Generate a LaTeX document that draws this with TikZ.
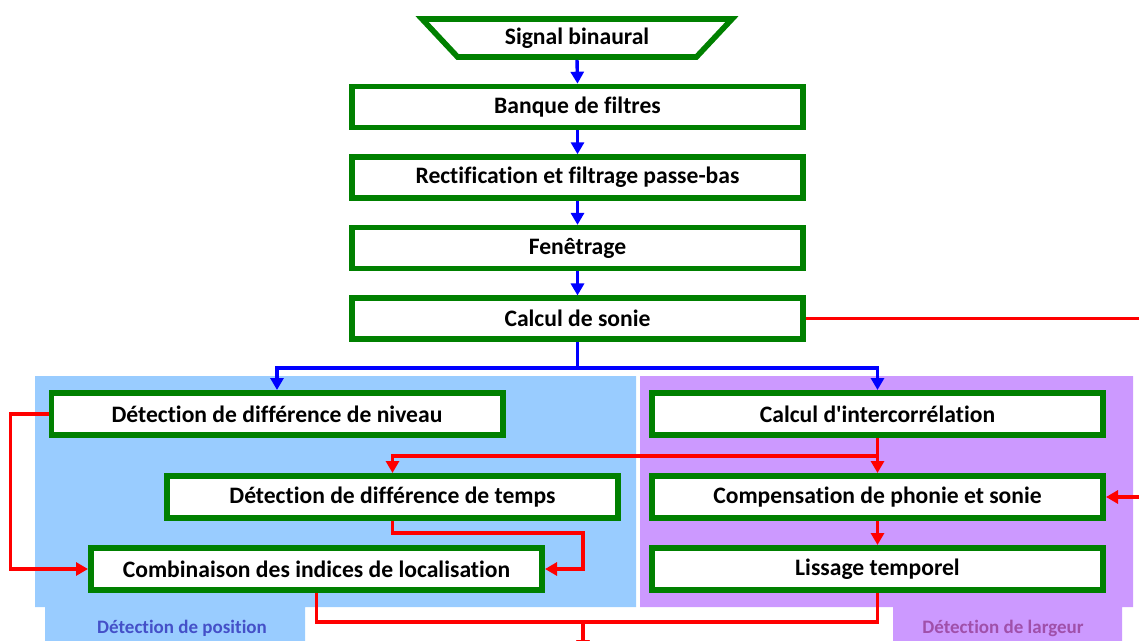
\documentclass[tikz,border=0pt]{standalone}
\usepackage{fontspec}
\setmainfont{Carlito}[Ligatures=NoCommon]
\usepackage{tikz}
\usetikzlibrary{shapes.geometric,arrows.meta,positioning}
\definecolor{flowgreen}{RGB}{0,128,0}
\definecolor{flowblue}{RGB}{0,0,255}
\definecolor{flowred}{RGB}{255,0,0}
\definecolor{posfill}{RGB}{153,204,255}
\definecolor{largfill}{RGB}{204,153,255}
\definecolor{postext}{RGB}{68,80,200}
\definecolor{largtext}{RGB}{160,80,170}

\begin{document}
\begin{tikzpicture}[
  x=0.5pt,y=-0.5pt,
  node distance=12pt,
  box/.style={draw=flowgreen,line width=2.8pt,fill=white,inner sep=0pt,
              minimum width=225.7pt,minimum height=20.5pt,
              font=\fontsize{11.8}{13}\selectfont\bfseries},
  lowbox/.style={box,minimum height=21.2pt},
  src/.style={box,trapezium,trapezium angle=30,shape border rotate=180,
              trapezium stretches body,minimum width=155pt,minimum height=19pt},
  zone/.style={font=\fontsize{9.5}{11}\selectfont\bfseries},
  barr/.style={-{Triangle[width=6.5pt,length=6pt]},line width=1.7pt,draw=flowblue},
  rarr/.style={-{Triangle[width=6.5pt,length=6pt]},line width=1.7pt,draw=flowred},
  rline/.style={line width=1.7pt,draw=flowred}]

  \clip (0,0) rectangle (1139,641);

  \fill[posfill] (35,376) -- (636,376) -- (636,607) -- (305,607) -- (305,645)
    -- (45,645) -- (45,607) -- (35,607) -- cycle;
  \fill[largfill] (640,376) -- (1133,376) -- (1133,607) -- (1122,607) -- (1122,645)
    -- (893,645) -- (893,607) -- (640,607) -- cycle;
  \node[zone,color=postext] (poslbl) at (182,628) {Détection de position};
  \node[zone,color=largtext] (larglbl) at (1003,628) {Détection de largeur};

  \node[src] (signal) at (577,38) {Signal binaural};
  \node[box] (banque) at (577.5,107) {Banque de filtres};
  \node[box,below=of banque] (rectif) {Rectification et filtrage passe-bas};
  \node[box,below=of rectif] (fenetre) {Fenêtrage};
  \node[box,below=of fenetre] (sonie) {Calcul de sonie};

  \node[lowbox] (niveau) at (277,414) {Détection de différence de niveau};
  \node[lowbox] (intercorr) at (877.5,414) {Calcul d\textquotesingle intercorrélation};
  \node[lowbox] (temps) at (392.5,497) {Détection de différence de temps};
  \node[lowbox] (compens) at (877.5,497) {Compensation de phonie et sonie};
  \node[lowbox] (combin) at (316.5,569) {Combinaison des indices de localisation};
  \node[lowbox] (lissage) at (877.5,569) {Lissage temporel};

  \coordinate (edgeR) at (1139,0);
  \coordinate (merge) at (583,622);
  \coordinate (bottomout) at (583,652);

  \draw[barr] (signal.south) -- (banque.north);
  \draw[barr] (banque) -- (rectif);
  \draw[barr] (rectif) -- (fenetre);
  \draw[barr] (fenetre) -- (sonie);
  \draw[barr] (sonie.south) -- ++(0,26) -| (niveau.north);
  \draw[barr] (sonie.south) -- ++(0,26) -| (intercorr.north);

  \draw[rline] (sonie.east) -- (sonie.east -| edgeR);
  \draw[rarr] (compens.east -| edgeR) -- (compens.east);
  \draw[rarr] (intercorr) -- (compens);
  \draw[rarr] (intercorr.south) -- ++(0,18) -| (temps.north);
  \draw[rarr] (compens) -- (lissage);
  \draw[rarr] (niveau.west) -- ++(-38,0) |- (combin.west);
  \draw[rarr] (temps.south) -- ++(0,12) -| ([xshift=19pt]combin.east) -- (combin.east);
  \draw[rline] (combin.south) -- ++(0,29) -| (lissage.south);
  \draw[rarr] (merge) -- (bottomout);
\end{tikzpicture}
\end{document}
